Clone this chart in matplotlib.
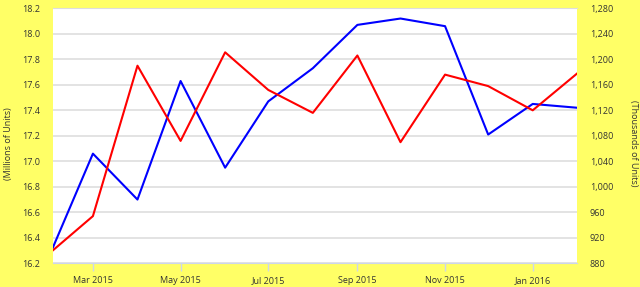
import matplotlib.pyplot as plt
import matplotlib.dates as mdates
import matplotlib.ticker as mticker
import pandas as pd

# monthly data, Feb 2015 - Feb 2016
months = pd.date_range("2015-02-01", "2016-02-01", freq="MS")
millions = [16.32, 17.06, 16.70, 17.63, 16.95, 17.47, 17.73, 18.07, 18.12, 18.06, 17.21, 17.45, 17.42]
thousands = [900, 954, 1190, 1072, 1211, 1152, 1116, 1206, 1070, 1176, 1158, 1120, 1178]

bg = "#ffff66"
txt = "#333333"
axis_col = "#ccd6eb"

plt.rcParams["font.family"] = ["Open Sans", "DejaVu Sans"]

fig = plt.figure(figsize=(6.4, 2.87), dpi=100, facecolor=bg)
ax = fig.add_axes([0.0823, 0.0826, 0.8197, 0.8884])
ax.set_facecolor("white")
ax2 = ax.twinx()

ax.plot(months, millions, color="#0000ff", lw=1.5, zorder=3)
ax2.plot(months, thousands, color="#ff0000", lw=1.5, zorder=3)

ax.set_xlim(months[0], months[-1])
ax.set_ylim(16.2, 18.2)
ax2.set_ylim(880, 1280)
ax.set_yticks([16.2 + 0.2 * i for i in range(11)])
ax2.set_yticks(range(880, 1281, 40))
ax.yaxis.set_major_formatter(mticker.FormatStrFormatter("%.1f"))
ax2.yaxis.set_major_formatter(mticker.StrMethodFormatter("{x:,.0f}"))

ax.xaxis.set_major_locator(mdates.MonthLocator(bymonth=[1, 3, 5, 7, 9, 11]))
ax.xaxis.set_major_formatter(mdates.DateFormatter("%b %Y"))

ax.grid(axis="y", color="#e0e0e0", lw=1.3)
ax.set_axisbelow(True)

ax.tick_params(axis="x", colors=axis_col, labelcolor=txt, labelsize=6.5, length=6, width=1, pad=3)
ax.tick_params(axis="y", length=0, labelcolor=txt, labelsize=6.5, pad=9)
ax2.tick_params(axis="y", length=0, labelcolor=txt, labelsize=6.5, pad=9)

for a in (ax, ax2):
    for s in a.spines.values():
        s.set_visible(False)
ax.spines["bottom"].set_visible(True)
ax.spines["bottom"].set_color(axis_col)
ax.spines["top"].set_visible(True)
ax.spines["top"].set_color("#dddddd")

fig.text(8.5 / 640, 0.5, "(Millions of Units)", rotation=90, fontsize=6.5,
         color=txt, ha="center", va="center")
fig.text(634 / 640, 0.5, "(Thousands of Units)", rotation=270, fontsize=6.5,
         color=txt, ha="center", va="center")

fig.savefig("out.png", dpi=100, facecolor=bg)
